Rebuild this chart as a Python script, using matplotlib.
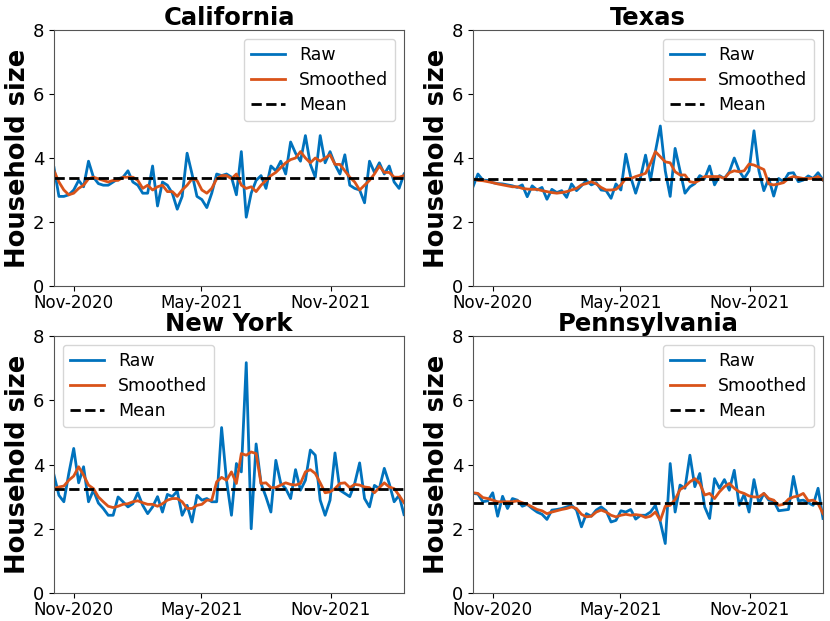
import numpy as np
import pandas as pd
import matplotlib
matplotlib.use('Agg')
import matplotlib.pyplot as plt
import matplotlib.dates as mdates

# weekly household size estimates, Oct-2020 to Feb-2022
dates = pd.date_range('2020-10-04', periods=72, freq='7D')

ca_raw = [3.7, 2.8, 2.8, 2.85, 3.0, 3.3, 3.1, 3.9, 3.4, 3.2, 3.15, 3.15, 3.25, 3.35, 3.4, 3.6,
          3.25, 3.15, 2.9, 2.9, 3.75, 2.5, 3.25, 3.15, 2.9, 2.4, 2.8, 4.15, 3.5, 2.8, 2.7, 2.45,
          2.9, 3.5, 3.45, 3.5, 3.4, 2.85, 4.2, 2.15, 2.9, 3.3, 3.45, 3.05, 3.75, 3.6, 3.9, 3.5,
          4.5, 4.15, 3.9, 4.7, 3.8, 3.4, 4.7, 3.85, 4.2, 3.8, 3.5, 4.1, 3.15, 3.05, 3.0, 2.6,
          3.9, 3.55, 3.85, 3.5, 3.75, 3.25, 3.05, 3.5]
ca_smooth = [3.6, 3.25, 3.0, 2.85, 2.9, 3.05, 3.15, 3.35, 3.4, 3.35, 3.3, 3.25, 3.3, 3.3, 3.4, 3.4,
             3.4, 3.3, 3.05, 3.15, 3.0, 3.1, 3.15, 2.95, 2.95, 2.8, 3.0, 3.15, 3.35, 3.3, 3.0, 2.9,
             3.05, 3.35, 3.45, 3.45, 3.35, 3.5, 3.15, 3.05, 3.1, 2.95, 3.15, 3.3, 3.45, 3.55, 3.7, 3.85,
             3.95, 4.0, 4.2, 4.0, 3.85, 4.0, 3.9, 4.0, 4.1, 3.8, 3.8, 3.6, 3.4, 3.25, 3.0, 3.15,
             3.3, 3.5, 3.75, 3.55, 3.55, 3.4, 3.4, 3.45]
ca_mean = 3.38

tx_raw = [3.1, 3.5, 3.31, 3.3, 3.23, 3.2, 3.19, 3.16, 3.13, 3.08, 3.16, 2.79, 3.13, 3.0, 3.08, 2.71,
          3.02, 2.92, 2.98, 2.77, 3.19, 2.98, 3.13, 3.3, 3.16, 3.23, 3.0, 2.98, 2.74, 3.19, 3.0, 4.12,
          3.4, 2.9, 3.4, 4.09, 3.3, 4.2, 5.0, 3.6, 2.8, 4.3, 3.6, 2.9, 3.1, 3.2, 3.45, 3.36,
          3.75, 3.16, 3.45, 3.36, 3.57, 4.0, 3.6, 3.36, 3.6, 4.85, 3.6, 2.98, 3.36, 2.81, 3.36, 3.26,
          3.52, 3.54, 3.26, 3.31, 3.44, 3.36, 3.54, 3.31]
tx_smooth = [3.35, 3.3, 3.29, 3.26, 3.23, 3.19, 3.16, 3.13, 3.1, 3.1, 3.05, 3.03, 3.02, 3.02, 2.98, 2.95,
             2.92, 2.9, 2.92, 2.95, 3.0, 3.05, 3.16, 3.2, 3.26, 3.19, 3.08, 3.0, 3.0, 3.02, 3.16, 3.36,
             3.36, 3.42, 3.47, 3.52, 3.83, 4.2, 4.04, 3.88, 3.85, 3.57, 3.47, 3.47, 3.26, 3.23, 3.31, 3.42,
             3.42, 3.42, 3.42, 3.36, 3.54, 3.6, 3.57, 3.6, 3.81, 3.78, 3.71, 3.64, 3.19, 3.16, 3.19, 3.23,
             3.36, 3.42, 3.39, 3.36, 3.36, 3.36, 3.42, 3.31]
tx_mean = 3.33

ny_raw = [3.67, 3.04, 2.84, 3.72, 4.5, 3.43, 3.93, 2.84, 3.2, 2.8, 2.63, 2.42, 2.42, 2.99, 2.84, 2.68,
          2.78, 3.12, 2.73, 2.47, 2.68, 3.0, 2.52, 3.07, 3.0, 3.17, 2.42, 2.73, 2.21, 3.04, 2.89, 2.94,
          2.84, 2.84, 5.15, 3.5, 2.42, 4.03, 3.77, 7.17, 2.0, 4.64, 3.41, 2.99, 2.52, 4.13, 3.41, 3.25,
          2.94, 3.84, 3.2, 3.51, 4.45, 4.29, 2.89, 2.42, 2.89, 4.36, 3.2, 3.1, 3.0, 3.41, 4.05, 2.94,
          2.68, 3.35, 3.25, 3.88, 3.41, 2.84, 3.04, 2.44]
ny_smooth = [3.25, 3.3, 3.33, 3.51, 3.64, 3.93, 3.67, 3.36, 3.25, 2.99, 2.84, 2.7, 2.66, 2.7, 2.76, 2.78,
             2.84, 2.87, 2.81, 2.76, 2.76, 2.7, 2.78, 2.89, 2.94, 2.94, 2.84, 2.63, 2.63, 2.73, 2.76, 2.89,
             2.89, 3.46, 3.6, 3.51, 3.77, 3.41, 4.34, 4.29, 4.39, 4.34, 3.41, 3.43, 3.28, 3.28, 3.36, 3.43,
             3.38, 3.36, 3.41, 3.77, 3.84, 3.72, 3.43, 3.12, 3.15, 3.25, 3.41, 3.43, 3.28, 3.38, 3.36, 3.3,
             3.28, 3.12, 3.28, 3.43, 3.3, 3.25, 3.04, 2.81]
ny_mean = 3.25

pa_raw = [3.1, 3.08, 2.84, 2.87, 3.12, 2.39, 3.01, 2.63, 2.94, 2.89, 2.7, 2.76, 2.63, 2.52, 2.45, 2.29,
          2.58, 2.6, 2.63, 2.68, 2.73, 2.58, 2.06, 2.47, 2.39, 2.58, 2.68, 2.56, 2.21, 2.26, 2.56, 2.52,
          2.6, 2.3, 2.42, 2.42, 2.52, 2.73, 2.21, 1.54, 4.03, 2.52, 3.36, 3.26, 4.29, 3.31, 3.72, 2.68,
          2.32, 3.56, 3.26, 3.53, 3.2, 3.82, 2.73, 3.07, 2.52, 3.53, 2.78, 3.1, 2.89, 2.87, 2.56, 2.58,
          2.6, 3.63, 2.87, 2.89, 2.81, 2.73, 3.26, 2.32]
pa_smooth = [3.12, 3.1, 2.97, 2.94, 2.89, 2.84, 2.84, 2.84, 2.84, 2.87, 2.81, 2.76, 2.68, 2.6, 2.56, 2.47,
             2.52, 2.56, 2.6, 2.63, 2.68, 2.63, 2.45, 2.37, 2.39, 2.52, 2.58, 2.52, 2.42, 2.37, 2.42, 2.45,
             2.42, 2.44, 2.42, 2.35, 2.39, 2.52, 2.26, 2.7, 2.73, 2.91, 3.22, 3.31, 3.46, 3.56, 3.41, 3.05,
             3.1, 2.94, 3.15, 3.31, 3.41, 3.26, 3.15, 3.1, 3.02, 2.99, 2.99, 3.1, 2.94, 2.89, 2.73, 2.76,
             2.92, 2.99, 3.02, 3.1, 2.87, 2.89, 2.78, 2.47]
pa_mean = 2.81

states = ['California', 'Texas', 'New York', 'Pennsylvania']
raws = [ca_raw, tx_raw, ny_raw, pa_raw]
smooths = [ca_smooth, tx_smooth, ny_smooth, pa_smooth]
means = [ca_mean, tx_mean, ny_mean, pa_mean]
legend_loc = ['upper right', 'upper right', 'upper left', 'upper right']

W, H = 830, 621
boxes = [(54, 30, 404, 286), (473, 30, 823, 286),
         (54, 336, 404, 593), (473, 336, 823, 593)]

fig = plt.figure(figsize=(8.3, 6.21), dpi=100)

for k in range(4):
    x0, y0, x1, y1 = boxes[k]
    ax = fig.add_axes([x0 / W, 1 - y1 / H, (x1 - x0) / W, (y1 - y0) / H])
    ax.plot(dates, raws[k], color='#0072BD', lw=2, label='Raw')
    ax.plot(dates, smooths[k], color='#D95319', lw=2, label='Smoothed')
    ax.axhline(means[k], color='black', ls='--', lw=2, label='Mean')
    ax.set_xlim(dates[0], dates[-1])
    ax.set_ylim(0, 8)
    ax.set_yticks([0, 2, 4, 6, 8])
    ax.xaxis.set_major_locator(mdates.MonthLocator(bymonth=[5, 11]))
    ax.xaxis.set_major_formatter(mdates.DateFormatter('%b-%Y'))
    ax.tick_params(axis='y', labelsize=13)
    ax.tick_params(axis='x', labelsize=12, pad=2)
    ax.set_title(states[k], fontsize=17.5, fontweight='bold', pad=3)
    ax.set_ylabel('Household size', fontsize=18.5, fontweight='bold', labelpad=1)
    for s in ax.spines.values():
        s.set_color('#555555')
    ax.legend(loc=legend_loc[k], fontsize=12.5, labelspacing=0.42)

fig.savefig('out.png', dpi=100)
